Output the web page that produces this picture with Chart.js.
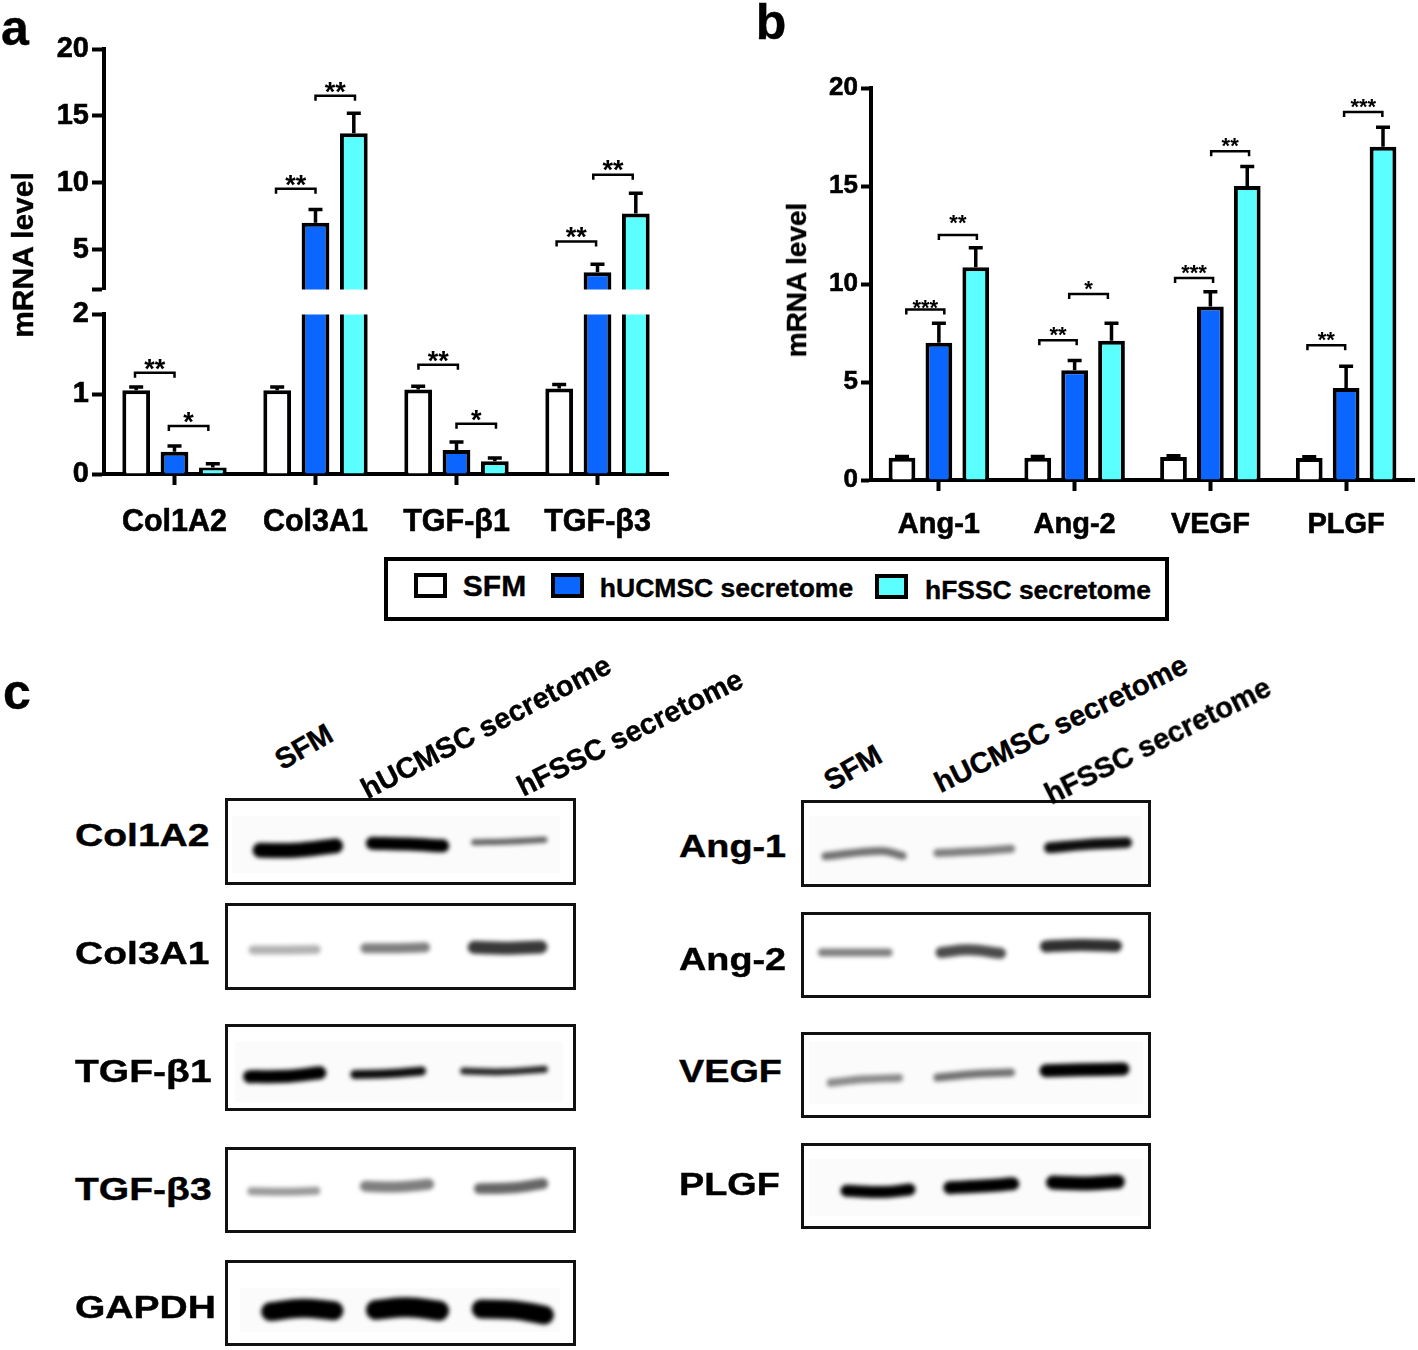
<!DOCTYPE html>
<html>
<head>
<meta charset="utf-8">
<title>mRNA level and western blot</title>
<script src="https://cdn.jsdelivr.net/npm/chart.js@4"></script>
<style>
    html, body { margin: 0; padding: 0; background: #fff; }
    #page { position: relative; width: 1418px; height: 1350px; overflow: hidden; background: #fff; }
    #page canvas { position: absolute; }
    .txt { position: absolute; white-space: nowrap; color: #000; font-family: "Liberation Sans", Arial, sans-serif; font-weight: bold; line-height: 1; -webkit-text-stroke: 0.4px #000; }
    .frame { position: absolute; box-sizing: border-box; border: 3px solid #111; }
    .patch { position: absolute; background: #fbfbfb; }
    .swatch { position: absolute; box-sizing: border-box; border: 4px solid #000; }
</style>
</head>
<body>
<div id="page"></div>
<script>
// ---- panel a
const genesA = ["Col1A2", "Col3A1", "TGF-β1", "TGF-β3"];
const sfmA = [1.05, 1.05, 1.06, 1.07];
const ucA = [0.28, 7.0, 0.30, 3.3];
const fsA = [0.08, 13.7, 0.16, 7.7];
const sfmTopA = [1.09, 1.09, 1.10, 1.12];
const ucTopA = [0.35, 8.0, 0.40, 3.9];
const fsTopA = [0.13, 15.2, 0.20, 9.2];
// group, from, to (category units), level, stars
const sigLowA = [
    [0, -0.28, 0, 1.27, "**"],
    [0, -0.04, 0.24, 0.60, "*"],
    [2, -0.27, 0.01, 1.37, "**"],
    [2, 0, 0.28, 0.63, "*"]
];
const sigHighA = [
    [1, -0.28, 0, 9.55, "**"],
    [1, 0, 0.28, 16.5, "**"],
    [3, -0.29, -0.01, 5.6, "**"],
    [3, -0.03, 0.25, 10.6, "**"]
];

// ---- panel b
const genesB = ["Ang-1", "Ang-2", "VEGF", "PLGF"];
const sfmB = [1.13, 1.13, 1.17, 1.12];
const ucB = [7.0, 5.6, 8.85, 4.7];
const fsB = [10.85, 7.1, 15.0, 17.0];
const sfmTopB = [1.2, 1.2, 1.24, 1.19];
const ucTopB = [8.0, 6.1, 9.6, 5.8];
const fsTopB = [11.85, 8.0, 16.0, 18.0];
const sigB = [
    [0, -0.24, 0.04, 8.7, "***", 7],
    [0, 0, 0.28, 12.5, "**", 17],
    [1, -0.26, 0.015, 7.13, "**"],
    [1, -0.04, 0.245, 9.49, "*"],
    [2, -0.26, 0.02, 10.3, "***"],
    [2, 0.006, 0.285, 16.77, "**"],
    [3, -0.285, -0.007, 6.87, "**"],
    [3, -0.015, 0.267, 18.78, "***"]
];

const seriesNames = ["SFM", "hUCMSC secretome", "hFSSC secretome"];

// ---- panel c, bands: x, y at the start, middle and end of each band (percent of the blot)
const bandsCol1A2 = [[10, 60, 20, 60, 31.5, 55], [42, 52, 52, 53, 62, 55], [71, 51, 81, 50, 91, 48]];
const bandsCol3A1 = [[8, 54, 17, 54, 26, 53.5], [40, 52, 49, 52, 57, 51], [71, 51, 80, 52, 90, 50.5]];
const bandsTgfB1 = [[7, 60.5, 18, 60, 27, 56], [37, 58, 47, 57, 56, 54], [68, 54, 79, 55, 91, 52]];
const bandsTgfB3 = [[7.5, 51.5, 17, 52, 26, 51], [40, 45.7, 49, 46.5, 58, 43.4], [72.5, 48.4, 82, 47.5, 90.5, 42.6]];
const bandsGapdh = [[13, 60, 22, 56, 31, 59], [43, 58, 52, 55, 61, 59], [73, 57, 82, 58, 91, 64]];
const bandsAng1 = [[7, 64.5, 23, 58.5, 29, 64], [39, 61, 50, 59, 60, 56], [71, 55, 82, 51, 93, 49]];
const bandsAng2 = [[6, 47, 15, 47, 25, 47], [40, 47, 48, 44, 57, 48], [70, 40, 80, 38.5, 90, 39.5]];
const bandsVegf = [[8.5, 59, 18, 55, 28, 53.5], [39, 53, 49, 49, 60, 47], [70, 45, 80, 44, 92, 43]];
const bandsPlgf = [[13, 55.5, 24, 57, 31, 54], [42.5, 52, 52, 50, 60.5, 47.5], [72, 46, 81, 47, 90.5, 45]];
const densCol1A2 = [1, 1, 0.62];
const densCol3A1 = [0.3, 0.5, 0.78];
const densTgfB1 = [1, 0.95, 0.85];
const densTgfB3 = [0.4, 0.5, 0.6];
const densGapdh = [1, 1, 1];
const densAng1 = [0.55, 0.5, 0.95];
const densAng2 = [0.5, 0.7, 0.82];
const densVegf = [0.45, 0.55, 1];
const densPlgf = [1, 1, 1];

const BLUE = "#0b65ff";
const CYAN = "#5bffff";
const FONT = '"Liberation Sans", Arial, sans-serif';
Chart.defaults.font.family = FONT;
Chart.defaults.color = "#000";

const page = document.getElementById("page");

function addText(text, x, y, size, opts) {
    opts = opts || {};
    const d = document.createElement("div");
    d.className = "txt";
    d.textContent = text;
    d.style.left = x + "px";
    d.style.top = y + "px";
    d.style.fontSize = size + "px";
    if (opts.left) {
        d.style.transformOrigin = "0 50%";
        d.style.transform = "translateY(-50%) scaleX(" + (opts.sx || 1) + ")";
    } else {
        d.style.transform = "translate(-50%,-50%) rotate(" + (opts.rot || 0) + "deg) scaleX(" + (opts.sx || 1) + ")";
    }
    page.appendChild(d);
}

function addCanvas(left, top, w, h) {
    const c = document.createElement("canvas");
    c.width = w;
    c.height = h;
    c.style.left = left + "px";
    c.style.top = top + "px";
    c.style.width = w + "px";
    c.style.height = h + "px";
    page.appendChild(c);
    return c;
}

// error bars and the significance brackets, both go through the chart scales
const marksPlugin = {
    id: "marks",
    afterDatasetsDraw(chart, args, opts) {
        const ctx = chart.ctx;
        const x = chart.scales.x;
        const y = chart.scales.y;
        ctx.save();
        ctx.strokeStyle = "#000";
        ctx.fillStyle = "#000";
        ctx.lineCap = "butt";
        opts.tops.forEach((tops, s) => {
            const meta = chart.getDatasetMeta(s);
            tops.forEach((top, i) => {
                if (top < y.min || top > y.max) return;
                const bx = meta.data[i].x;
                const by = y.getPixelForValue(chart.data.datasets[s].data[i]);
                const ty = y.getPixelForValue(top);
                ctx.lineWidth = 3.5;
                ctx.beginPath();
                ctx.moveTo(bx, by);
                ctx.lineTo(bx, ty);
                ctx.moveTo(bx - 7, ty);
                ctx.lineTo(bx + 7, ty);
                ctx.stroke();
            });
        });
        ctx.textAlign = "center";
        ctx.textBaseline = "alphabetic";
        ctx.font = "bold " + opts.starSize + "px " + FONT;
        opts.sig.forEach(b => {
            const x1 = x.getPixelForValue(b[0] + b[1]);
            const x2 = x.getPixelForValue(b[0] + b[2]);
            const by = y.getPixelForValue(b[3]);
            const gap = b[5] === undefined ? 10 : b[5];
            ctx.lineWidth = 2.5;
            ctx.beginPath();
            ctx.moveTo(x1, by + 5);
            ctx.lineTo(x1, by);
            ctx.lineTo(x2, by);
            ctx.lineTo(x2, by + 5);
            ctx.stroke();
            ctx.fillText(b[4], (x1 + x2) / 2, by - gap + opts.starSize * 0.55);
        });
        ctx.restore();
    }
};

function barChart(canvas, cfg) {
    return new Chart(canvas.getContext("2d"), {
        type: "bar",
        data: {
            labels: cfg.labels,
            datasets: cfg.series.map((vals, i) => ({
                label: seriesNames[i],
                data: vals,
                backgroundColor: ["#fff", BLUE, CYAN][i],
                borderColor: "#000",
                borderWidth: 4,
                categoryPercentage: 0.815,
                barPercentage: 0.725,
                clip: 0
            }))
        },
        options: {
            responsive: false,
            animation: false,
            layout: { padding: cfg.padding },
            plugins: {
                legend: { display: false },
                tooltip: { enabled: false },
                marks: { tops: cfg.tops, sig: cfg.sig, starSize: cfg.starSize }
            },
            scales: {
                x: {
                    display: cfg.showX,
                    grid: { offset: false, drawOnChartArea: false, tickLength: 11, tickWidth: 4, tickColor: "#000" },
                    border: { width: 4, color: "#000" },
                    ticks: {
                        font: { size: cfg.xSize, weight: "bold" },
                        padding: cfg.xPad,
                        maxRotation: 0,
                        autoSkip: false,
                        color: "#000",
                        textStrokeColor: "#000",
                        textStrokeWidth: 0.6
                    },
                    afterFit: s => { s.height = cfg.xHeight; }
                },
                y: {
                    min: cfg.min,
                    max: cfg.max,
                    afterBuildTicks: s => { s.ticks = cfg.ticks.map(v => ({ value: v })); },
                    grid: { drawOnChartArea: false, tickLength: cfg.tickLen, tickWidth: 4, tickColor: "#000" },
                    border: { width: 4, color: "#000" },
                    ticks: {
                        font: { size: cfg.ySize, weight: "bold" },
                        padding: 3,
                        color: "#000",
                        textStrokeColor: "#000",
                        textStrokeWidth: 0.6,
                        callback: v => (cfg.hide === v ? "" : String(v))
                    },
                    afterFit: s => { s.width = cfg.yWidth; }
                }
            }
        },
        plugins: [marksPlugin]
    });
}

// panel a is cut in two at value 2
barChart(addCanvas(0, 20, 680, 290), {
    labels: genesA, series: [sfmA, ucA, fsA], tops: [sfmTopA, ucTopA, fsTopA], sig: sigHighA,
    min: 2, max: 20, ticks: [2, 5, 10, 15, 20], hide: 2,
    padding: { top: 29, right: 12, bottom: 0, left: 0 },
    showX: false, xHeight: 0, xSize: 30.5, xPad: 20, ySize: 29, yWidth: 104, tickLen: 12, starSize: 27
});
barChart(addCanvas(0, 294, 680, 250), {
    labels: genesA, series: [sfmA, ucA, fsA], tops: [sfmTopA, ucTopA, fsTopA], sig: sigLowA,
    min: 0, max: 2, ticks: [0, 1, 2],
    padding: { top: 16, right: 12, bottom: 0, left: 0 },
    showX: true, xHeight: 70, xSize: 30.5, xPad: 19, ySize: 29, yWidth: 104, tickLen: 12, starSize: 27
});
barChart(addCanvas(800, 60, 618, 480), {
    labels: genesB, series: [sfmB, ucB, fsB], tops: [sfmTopB, ucTopB, fsTopB], sig: sigB,
    min: 0, max: 20, ticks: [0, 5, 10, 15, 20],
    padding: { top: 28, right: 4, bottom: 0, left: 0 },
    showX: true, xHeight: 60, xSize: 29, xPad: 17, ySize: 26, yWidth: 71, tickLen: 10, starSize: 22
});

addText("a", 15, 28, 50);
addText("b", 771, 22, 50);
addText("c", 17, 692, 50);
addText("mRNA level", 23, 255, 30, { rot: -90 });
addText("mRNA level", 797, 280, 28, { rot: -90 });

// legend box
const legendBox = document.createElement("div");
legendBox.className = "frame";
legendBox.style.cssText = "left:384px;top:557px;width:785px;height:64px;border-width:4px;border-color:#000";
page.appendChild(legendBox);
[[414, 573, "#fff"], [551, 573, BLUE], [875, 574, CYAN]].forEach(s => {
    const d = document.createElement("div");
    d.className = "swatch";
    d.style.cssText = "left:" + s[0] + "px;top:" + s[1] + "px;width:33px;height:25px;background:" + s[2];
    page.appendChild(d);
});
addText(seriesNames[0], 494.5, 586, 30);
addText(seriesNames[1], 726.5, 588, 26.5);
addText(seriesNames[2], 1038, 590, 26.4);

// blots
const bandPlugin = {
    id: "bandBlur",
    beforeDatasetsDraw(chart) {
        chart.ctx.save();
        chart.ctx.filter = "blur(2px)";
    },
    afterDatasetsDraw(chart) {
        chart.ctx.restore();
    }
};

function blot(left, top, w, h, bands, density, thick, patch) {
    if (patch) {
        const p = document.createElement("div");
        p.className = "patch";
        p.style.cssText = "left:" + (left + patch[0]) + "px;top:" + (top + patch[1]) + "px;width:" + patch[2] + "px;height:" + patch[3] + "px";
        page.appendChild(p);
    }
    const c = addCanvas(left, top, w, h);
    new Chart(c.getContext("2d"), {
        type: "scatter",
        data: {
            datasets: bands.map((b, i) => ({
                label: seriesNames[i],
                data: [{ x: b[0], y: b[1] }, { x: b[2], y: b[3] }, { x: b[4], y: b[5] }],
                showLine: true,
                tension: 0.4,
                pointRadius: 0,
                borderWidth: thick[i],
                borderCapStyle: "round",
                borderColor: "rgba(0,0,0," + density[i] + ")"
            }))
        },
        options: {
            responsive: false,
            animation: false,
            plugins: { legend: { display: false }, tooltip: { enabled: false } },
            scales: {
                x: { display: false, min: 0, max: 100 },
                y: { display: false, min: 0, max: 100, reverse: true }
            }
        },
        plugins: [bandPlugin]
    });
    const f = document.createElement("div");
    f.className = "frame";
    f.style.cssText = "left:" + left + "px;top:" + top + "px;width:" + w + "px;height:" + h + "px";
    page.appendChild(f);
}

blot(225, 798, 351, 87, bandsCol1A2, densCol1A2, [15, 13, 6], [7, 18, 328, 57]);
blot(225, 903, 351, 87, bandsCol3A1, densCol3A1, [9, 10, 13], null);
blot(225, 1024, 351, 87, bandsTgfB1, densTgfB1, [13, 9, 7], [10, 18, 328, 60]);
blot(225, 1147, 351, 86, bandsTgfB3, densTgfB3, [8, 11, 11], null);
blot(225, 1260, 351, 86, bandsGapdh, densGapdh, [19, 20, 19], [15, 28, 320, 44]);
blot(801, 800, 350, 87, bandsAng1, densAng1, [8, 8, 11], [8, 16, 332, 66]);
blot(801, 912, 350, 86, bandsAng2, densAng2, [8, 11, 12], null);
blot(801, 1032, 350, 86, bandsVegf, densVegf, [8, 8, 13], [8, 10, 334, 62]);
blot(801, 1143, 350, 86, bandsPlgf, densPlgf, [12, 13, 14], [8, 16, 332, 57]);

const blotLabelsLeft = ["Col1A2", "Col3A1", "TGF-β1", "TGF-β3", "GAPDH"];
const blotLabelsRight = ["Ang-1", "Ang-2", "VEGF", "PLGF"];
[835, 953, 1071, 1189, 1307].forEach((y, i) => addText(blotLabelsLeft[i], 75, y, 32, { left: true, sx: 1.22 }));
[846, 959, 1071, 1184].forEach((y, i) => addText(blotLabelsRight[i], 679, y, 31, { left: true, sx: 1.22 }));

addText(seriesNames[0], 304, 747, 29, { rot: -30 });
addText(seriesNames[1], 486, 727, 29, { rot: -27.5 });
addText(seriesNames[2], 630, 733, 29, { rot: -26.5 });
addText(seriesNames[0], 853, 768, 29, { rot: -30 });
addText(seriesNames[1], 1061, 724, 29, { rot: -26 });
addText(seriesNames[2], 1158, 741, 29, { rot: -26.5 });
</script>
</body>
</html>
